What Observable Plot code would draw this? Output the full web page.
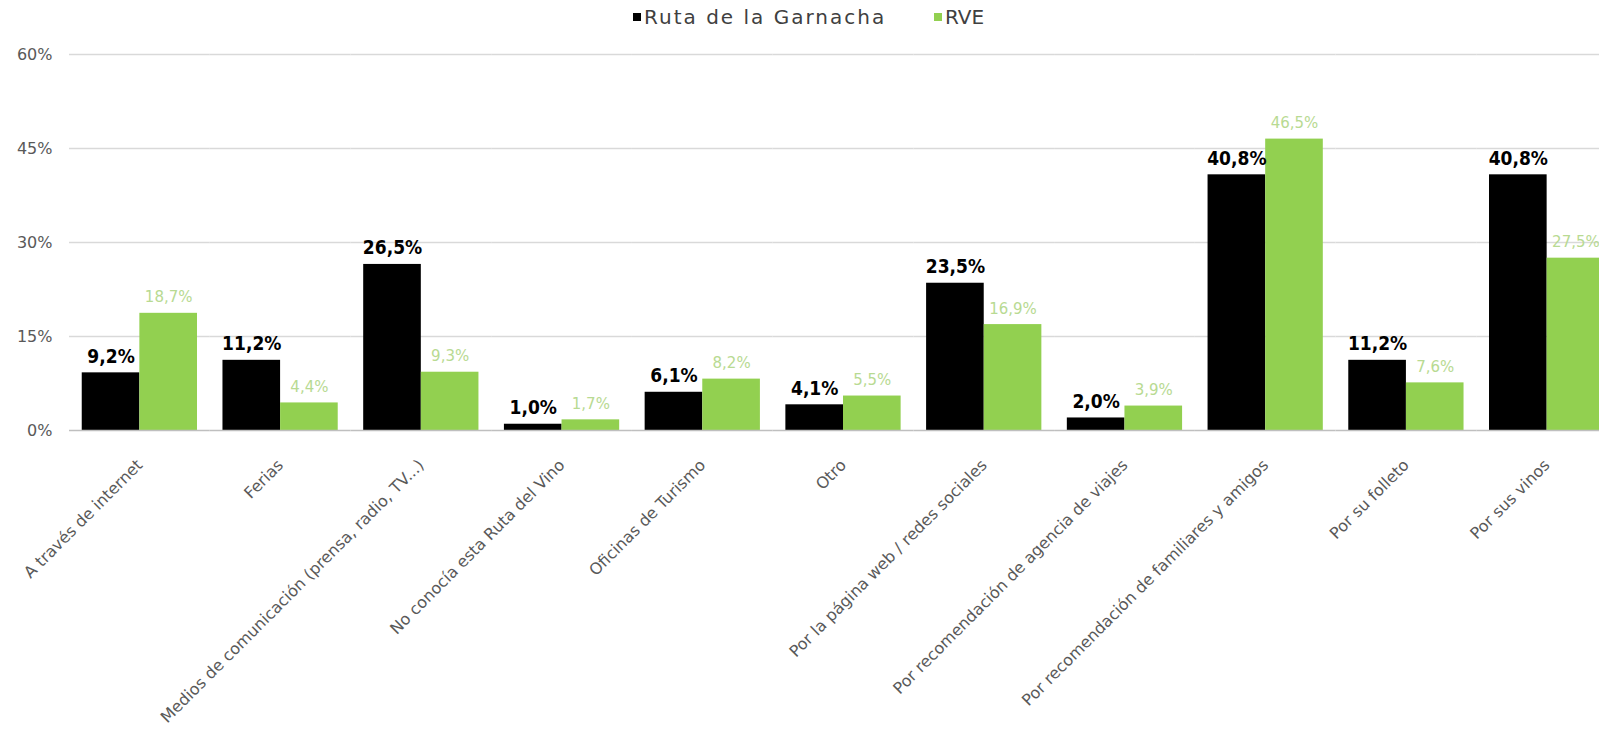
<!DOCTYPE html>
<html>
<head>
<meta charset="utf-8">
<script src="https://cdn.jsdelivr.net/npm/d3@7"></script>
<script src="https://cdn.jsdelivr.net/npm/@observablehq/plot@0.6"></script>
<style>
  html, body { margin: 0; padding: 0; background: #fff; overflow: hidden; width: 1599px; height: 744px; }
  #legend { position: relative; height: 34px; font-family: "DejaVu Sans", sans-serif; font-size: 20px; color: #404040; }
  .item { position: absolute; top: 5px; display: flex; align-items: center; white-space: nowrap; }
  .sw { width: 8px; height: 8px; margin-right: 3px; }
  #chart svg { display: block; overflow: visible; max-width: none !important; }
</style>
</head>
<body>
<div id="legend"></div>
<div id="chart"></div>
<script>
const categories = [
  "A través de internet",
  "Ferias",
  "Medios de comunicación (prensa, radio, TV...)",
  "No conocía esta Ruta del Vino",
  "Oficinas de Turismo",
  "Otro",
  "Por la página web / redes sociales",
  "Por recomendación de agencia de viajes",
  "Por recomendación de familiares y amigos",
  "Por su folleto",
  "Por sus vinos"
];
const series = ["Ruta de la Garnacha", "RVE"];
const garnacha = [9.2, 11.2, 26.5, 1.0, 6.1, 4.1, 23.5, 2.0, 40.8, 11.2, 40.8];
const rve = [18.7, 4.4, 9.3, 1.7, 8.2, 5.5, 16.9, 3.9, 46.5, 7.6, 27.5];
const yTicks = [0, 15, 30, 45, 60];
const colors = ["#000000", "#92d050"];
const labelColors = ["#000000", "#b8da92"];

const data = categories.flatMap((c, i) => [
  {cat: c, series: series[0], value: garnacha[i]},
  {cat: c, series: series[1], value: rve[i]}
]);
const fmt = v => v.toFixed(1).replace(".", ",") + "%";

// legend
const legend = document.getElementById("legend");
const legendLeft = [633, 934];
const legendSpacing = ["2px", "0px"];
series.forEach((s, i) => {
  const it = document.createElement("div");
  it.className = "item";
  it.style.left = legendLeft[i] + "px";
  it.style.letterSpacing = legendSpacing[i];
  const sw = document.createElement("span");
  sw.className = "sw";
  sw.style.background = colors[i];
  const tx = document.createElement("span");
  tx.textContent = s;
  it.appendChild(sw); it.appendChild(tx);
  legend.appendChild(it);
});

const chart = Plot.plot({
  width: 1620,
  height: 710,
  marginTop: 20,
  marginBottom: 314,
  marginLeft: 69,
  marginRight: 3,
  style: {fontFamily: "DejaVu Sans, sans-serif", fontSize: "16px", color: "#595959", background: "#fff"},
  fx: {domain: categories, padding: 0, round: false, label: null, tickRotate: -45, tickSize: 0, tickPadding: 32},
  x: {domain: series, paddingInner: 0, paddingOuter: 0.221, round: false, axis: null},
  y: {domain: [0, 60], ticks: yTicks, tickFormat: d => d + "%", label: null, tickSize: 0, tickPadding: 17},
  color: {domain: series, range: colors},
  marks: [
    Plot.ruleY(yTicks.filter(t => t > 0), {stroke: "#d9d9d9", strokeWidth: 1.5}),
    Plot.axisY({ticks: yTicks, tickFormat: d => d + "%", label: null, tickSize: 0, tickPadding: 17, line: true, stroke: "#d0d0d0", strokeWidth: 1.5, fill: "#595959"}),
    Plot.barY(data, {fx: "cat", x: "series", y: "value", fill: "series"}),
    Plot.ruleY([0], {stroke: "#bfbfbf", strokeWidth: 1.5}),
    Plot.text(data.filter(d => d.series === series[0]), {
      fx: "cat", x: "series", y: "value", text: d => fmt(d.value),
      dy: -10, lineAnchor: "bottom", fill: labelColors[0], fontWeight: "bold", fontSize: 19,
      fontFamily: "DejaVu Sans Condensed, DejaVu Sans, sans-serif"
    }),
    Plot.text(data.filter(d => d.series === series[1]), {
      fx: "cat", x: "series", y: "value", text: d => fmt(d.value),
      dy: -11, lineAnchor: "bottom", fill: labelColors[1], fontSize: 15,
      fontFamily: "DejaVu Sans, sans-serif"
    })
  ]
});
document.getElementById("chart").appendChild(chart);
</script>
</body>
</html>
